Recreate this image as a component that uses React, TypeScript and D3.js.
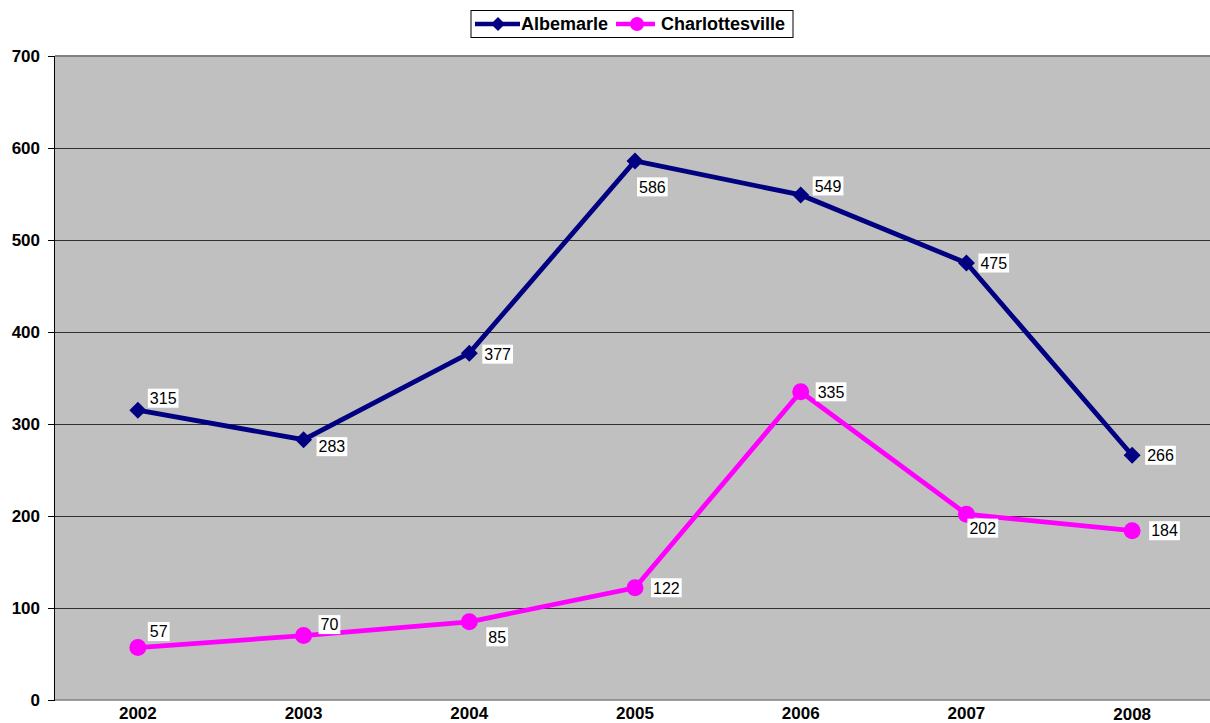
import React from "react";
import * as d3 from "d3";

const years = ["2002", "2003", "2004", "2005", "2006", "2007", "2008"];
const albemarle = [315, 283, 377, 586, 549, 475, 266];
const charlottesville = [57, 70, 85, 122, 335, 202, 184];
const yTicks = [0, 100, 200, 300, 400, 500, 600, 700];

// label placement (style): offsets of the label's left edge / vertical centre from the point
const albLabelDx = [10, 13, 13, 2, 12, 12, 13];
const albLabelDy = [-12, 7, 1, 26, -9, 0, 0];
const chaLabelDx = [10, 15, 17, 16, 15, 1, 17];
const chaLabelDy = [-16, -11, 15, 0, 0, 14, 0];

const W = 1210;
const H = 723;
const left = 55;
const right = 1215;
const top = 56;
const bottom = 700;

const FONT = "Arial, 'Liberation Sans', Helvetica, sans-serif";

export default function App() {
  const x = d3.scalePoint<string>().domain(years).range([left, right]).padding(0.5);
  const y = d3.scaleLinear().domain([0, 700]).range([bottom, top]);

  const line = d3
    .line<number>()
    .x((_, i) => x(years[i]) as number)
    .y((d) => y(d));

  const series = [
    { name: "Albemarle", values: albemarle, color: "#000080", marker: "diamond", dx: albLabelDx, dy: albLabelDy },
    { name: "Charlottesville", values: charlottesville, color: "#FF00FF", marker: "circle", dx: chaLabelDx, dy: chaLabelDy },
  ];

  const diamond = (cx: number, cy: number, r: number) =>
    `M${cx},${cy - r}L${cx + r},${cy}L${cx},${cy + r}L${cx - r},${cy}Z`;

  const labelW = (s: string) => s.length * 8.9 + 4;

  return (
    <svg
      width={W}
      height={H}
      style={{ position: "absolute", left: 0, top: 0, display: "block" }}
      fontFamily={FONT}
    >
      <rect x={0} y={0} width={W} height={H} fill="#ffffff" />
      {/* plot area */}
      <rect x={left} y={top} width={right - left} height={bottom - top} fill="#C0C0C0" />
      {/* gridlines */}
      {yTicks.slice(1, -1).map((t) => (
        <line key={t} x1={left} x2={right} y1={y(t) + 0.5} y2={y(t) + 0.5} stroke="#000" strokeWidth={1} strokeOpacity={0.75} />
      ))}
      <line x1={left} x2={right} y1={top} y2={top} stroke="#808080" strokeWidth={2} />
      <line x1={left} x2={right} y1={bottom} y2={bottom} stroke="#808080" strokeWidth={1.5} />
      {/* y axis */}
      <line x1={left - 0.5} x2={left - 0.5} y1={top} y2={bottom} stroke="#000" strokeWidth={1} />
      {yTicks.map((t) => (
        <g key={t}>
          <line x1={left - 7} x2={left} y1={y(t) + 0.5} y2={y(t) + 0.5} stroke="#000" strokeWidth={1} />
          <text x={40} y={y(t)} dy="0.35em" textAnchor="end" fontWeight="bold" fontSize={17} fill="#000">
            {t}
          </text>
        </g>
      ))}
      {/* x labels */}
      {years.map((yr, i) => (
        <text
          key={yr}
          x={x(yr) as number}
          y={i === years.length - 1 ? 720 : 719}
          textAnchor="middle"
          fontWeight="bold"
          fontSize={17}
          fill="#000"
        >
          {yr}
        </text>
      ))}
      {/* series */}
      {series.map((s) => (
        <g key={s.name}>
          <path d={line(s.values) || ""} fill="none" stroke={s.color} strokeWidth={4.8} strokeLinejoin="miter" />
          {s.values.map((v, i) => {
            const cx = x(years[i]) as number;
            const cy = y(v);
            return s.marker === "diamond" ? (
              <path key={i} d={diamond(cx, cy, 8.5)} fill={s.color} />
            ) : (
              <circle key={i} cx={cx} cy={cy} r={8.5} fill={s.color} />
            );
          })}
        </g>
      ))}
      {/* data labels */}
      {series.map((s) => (
        <g key={s.name + "-lab"}>
          {s.values.map((v, i) => {
            const lx = (x(years[i]) as number) + s.dx[i];
            const ly = y(v) + s.dy[i];
            const txt = String(v);
            const w = labelW(txt);
            return (
              <g key={i}>
                <rect x={lx} y={ly - 9.5} width={w} height={19} fill="#ffffff" />
                <text x={lx + 2} y={ly} dy="0.36em" fontSize={16} fill="#000">
                  {txt}
                </text>
              </g>
            );
          })}
        </g>
      ))}
      {/* legend */}
      <rect x={471} y={10.5} width={322} height={27} fill="#ffffff" stroke="#000" strokeWidth={1} />
      <line x1={475} x2={520} y1={24} y2={24} stroke="#000080" strokeWidth={4.5} />
      <path d={diamond(498, 24, 7)} fill="#000080" />
      <text x={521} y={24} dy="0.35em" fontWeight="bold" fontSize={18} fill="#000">
        Albemarle
      </text>
      <line x1={616} x2={655} y1={24} y2={24} stroke="#FF00FF" strokeWidth={4.5} />
      <circle cx={637} cy={24} r={7} fill="#FF00FF" />
      <text x={661} y={24} dy="0.35em" fontWeight="bold" fontSize={18} fill="#000">
        Charlottesville
      </text>
    </svg>
  );
}
